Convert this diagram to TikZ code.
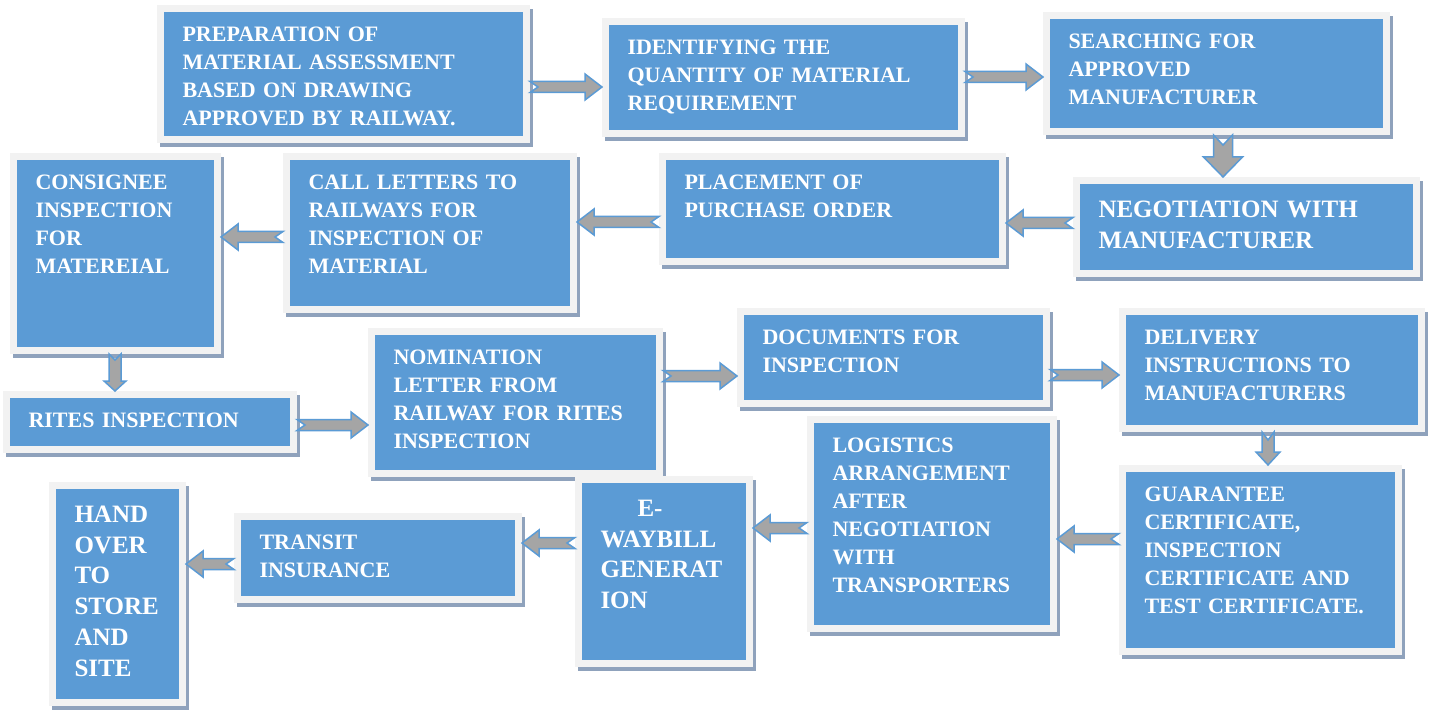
\documentclass[tikz,border=0pt]{standalone}
\usepackage{fontspec}
\setmainfont{Liberation Serif}
\usetikzlibrary{calc,shadows}

\definecolor{stageblue}{HTML}{5B9BD5}
\definecolor{framegrey}{HTML}{F2F2F2}
\definecolor{shadowgrey}{HTML}{8FA2BC}
\definecolor{arrowgrey}{HTML}{A5A5A5}

\tikzset{
	stage/.style={rectangle, anchor=north west, fill=stageblue, draw=framegrey,
		line width=3.5pt, inner xsep=11pt, inner ysep=8.4pt, text height=8pt,
		align=left, text=white, font=\fontsize{11pt}{14pt}\selectfont\bfseries,
		general shadow={draw=shadowgrey, fill=shadowgrey, line width=3.5pt,
			shadow xshift=1.5pt, shadow yshift=-2pt}},
	bigstage/.style={stage, text height=10pt,
		font=\fontsize{12.5pt}{15.4pt}\selectfont\bfseries},
	% #1 shaft half width, #2 head half width, #3 head length, #4 notch depth
	blockarrow/.style n args={4}{fill=arrowgrey, draw=stageblue, line width=0.75pt,
		to path={
			($(\tikztostart)!#1!90:(\tikztotarget)$)
			-- ($($(\tikztotarget)!#3!(\tikztostart)$)!#1!-90:(\tikztostart)$)
			-- ($($(\tikztotarget)!#3!(\tikztostart)$)!#2!-90:(\tikztostart)$)
			-- (\tikztotarget)
			-- ($($(\tikztotarget)!#3!(\tikztostart)$)!#2!90:(\tikztostart)$)
			-- ($($(\tikztotarget)!#3!(\tikztostart)$)!#1!90:(\tikztostart)$)
			-- ($(\tikztostart)!#1!-90:(\tikztotarget)$)
			-- ($(\tikztostart)!#4!(\tikztotarget)$)
			-- cycle}},
	arrowstd/.style={blockarrow={2.75pt}{6.5pt}{8.5pt}{4pt}},
	arrowwide/.style={blockarrow={4.75pt}{9.75pt}{10pt}{5pt}},
	arrowmid/.style={blockarrow={3pt}{5.5pt}{5pt}{3pt}},
	arrowsmall/.style={blockarrow={3pt}{6pt}{6.5pt}{4pt}},
}

\begin{document}
\begin{tikzpicture}[x=0.5pt, y=-0.5pt]
	\path[use as bounding box, fill=white] (0,0) rectangle (1435,711);
	
	% first row
	\node[stage, text width=161pt, text depth=40.7pt] (prep) at (157,5)
		{PREPARATION OF\\ MATERIAL ASSESSMENT\\ BASED ON DRAWING\\ APPROVED BY RAILWAY.};
	\node[stage, text width=156pt, text depth=31.2pt] (ident) at (602,18)
		{IDENTIFYING THE\\ QUANTITY OF MATERIAL\\ REQUIREMENT};
	\node[stage, text width=148pt, text depth=33.2pt] (search) at (1043,12)
		{SEARCHING FOR\\ APPROVED\\ MANUFACTURER};
	
	% second row
	\node[bigstage, text width=148pt, text depth=19.7pt] (nego) at (1073,177)
		{NEGOTIATION WITH\\ MANUFACTURER};
	\node[stage, text width=148pt, text depth=27.7pt] (place) at (659,153)
		{PLACEMENT OF\\ PURCHASE ORDER};
	\node[stage, text width=121.5pt, text depth=51.7pt] (call) at (283,153)
		{CALL LETTERS TO\\ RAILWAYS FOR\\ INSPECTION OF\\ MATERIAL};
	\node[stage, text width=80pt, text depth=72.2pt] (consig) at (10,153)
		{CONSIGNEE\\ INSPECTION\\ FOR\\ MATEREIAL};
	
	% third row
	\node[stage, text width=121.5pt, text depth=2.7pt] (rites) at (3,391)
		{RITES INSPECTION};
	\node[stage, text width=122pt, text depth=46.2pt] (nomin) at (368,328)
		{NOMINATION\\ LETTER FROM\\ RAILWAY FOR RITES\\ INSPECTION};
	\node[stage, text width=131pt, text depth=21.2pt] (docs) at (737,308)
		{DOCUMENTS FOR\\ INSPECTION};
	\node[stage, text width=127.5pt, text depth=33.7pt] (deliv) at (1119,308)
		{DELIVERY\\ INSTRUCTIONS TO\\ MANUFACTURERS};
	
	% last row
	\node[stage, text width=116pt, text depth=66.7pt] (guar) at (1119,465)
		{GUARANTEE\\ CERTIFICATE,\\ INSPECTION\\ CERTIFICATE AND\\ TEST CERTIFICATE.};
	\node[stage, text width=99.5pt, text depth=79.7pt] (logis) at (807,416)
		{LOGISTICS\\ ARRANGEMENT\\ AFTER\\ NEGOTIATION\\ WITH\\ TRANSPORTERS};
	\node[bigstage, text width=63.5pt, text depth=65.2pt] (eway) at (575,476)
		{\hspace*{18.5pt}E-\\ WAYBILL\\ GENERAT\\ ION};
	\node[stage, text width=118.5pt, text depth=16.7pt] (trans) at (234,513)
		{TRANSIT\\ INSURANCE};
	\node[bigstage, text width=43pt, text depth=81.7pt] (hand) at (49,482)
		{HAND\\ OVER\\ TO\\ STORE\\ AND\\ SITE};
	
	% arrows
	\draw[arrowstd] (prep.east |- 0,87) to (ident.west |- 0,87);
	\draw[arrowstd] (ident.east |- 0,77) to (search.west |- 0,77);
	\draw[arrowwide] (search.south -| 1223,0) to (nego.north -| 1223,0);
	\draw[arrowstd] (nego.west |- 0,223) to (place.east |- 0,223);
	\draw[arrowstd] (place.west |- 0,222) to (call.east |- 0,222);
	\draw[arrowstd] (call.west |- 0,237) to (consig.east |- 0,237);
	\draw[arrowmid] (consig.south -| 115,0) to (rites.north -| 115,0);
	\draw[arrowstd] (rites.east |- 0,425) to (nomin.west |- 0,425);
	\draw[arrowstd] (nomin.east |- 0,376) to (docs.west |- 0,376);
	\draw[arrowstd] (docs.east |- 0,375) to (deliv.west |- 0,375);
	\draw[arrowsmall] (deliv.south -| 1268,0) to (guar.north -| 1268,0);
	\draw[arrowstd] (guar.west |- 0,539) to (logis.east |- 0,539);
	\draw[arrowstd] (logis.west |- 0,528) to (eway.east |- 0,528);
	\draw[arrowstd] (eway.west |- 0,543) to (trans.east |- 0,543);
	\draw[arrowstd] (trans.west |- 0,564) to (hand.east |- 0,564);
\end{tikzpicture}
\end{document}
